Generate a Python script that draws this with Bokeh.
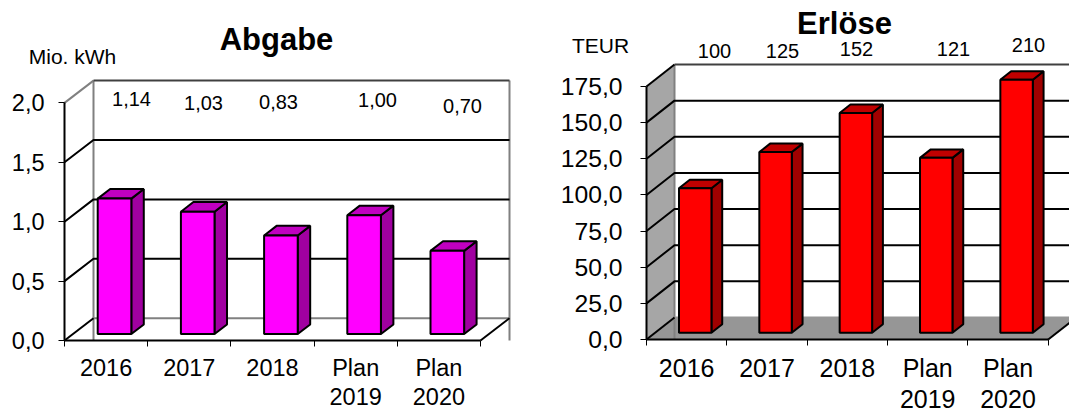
from bokeh.embed import file_html
from bokeh.layouts import row
from bokeh.models import FixedTicker, Label, Range1d
from bokeh.plotting import figure
from bokeh.resources import INLINE

# ---- data ----
categories = ["2016", "2017", "2018", "Plan\n2019", "Plan\n2020"]
abgabe_values = [1.14, 1.03, 0.83, 1.00, 0.70]
abgabe_ticks = [0.0, 0.5, 1.0, 1.5, 2.0]
erloese_values = [100, 125, 152, 121, 210]
erloese_ticks = [0.0, 25.0, 50.0, 75.0, 100.0, 125.0, 150.0, 175.0]

FONT = "Liberation Sans"
HEIGHT = 410


def chart(values, ticks, value_labels, unit, title, style):
    s = style
    ymax = ticks[-1]
    cat_w = s["cat_w"]
    ky = s["ky"]
    ox = s["depth_x"] / cat_w          # depth offset in category units
    oy = s["depth_y"] / ky             # depth offset in value units
    n = len(categories)
    zero = s["zero_y"]
    origin = s["origin_x"]

    p = figure(
        width=s["width"], height=HEIGHT, output_backend="svg", toolbar_location=None,
        x_range=Range1d(-origin / cat_w, (s["width"] - origin) / cat_w),
        y_range=Range1d(-(HEIGHT - zero) / ky, zero / ky),
        min_border_left=0, min_border_right=0,
        min_border_top=0, min_border_bottom=0,
        outline_line_color=None, background_fill_color="white",
    )
    p.grid.visible = False

    # walls and floor
    if s["wall"]:
        p.patch([0, ox, ox, 0], [0, oy, ymax + oy, ymax], fill_color=s["wall"], line_color=None)
    if s["floor"]:
        p.patch([0, ox, n + ox, n], [0, oy, oy, 0], fill_color=s["floor"], line_color=None)
    # back wall edges
    p.line([ox, ox], [0, ymax + oy], line_color="#808080", line_width=2)
    p.line([n + ox, n + ox], [0, ymax + oy], line_color="#808080", line_width=2)
    p.line([ox, n + ox], [oy, oy], line_color=s["floor_back"], line_width=2)
    p.line([n, n + ox], [0, oy], line_color="black", line_width=2)
    p.line([0, ox], [0, oy], line_color="black", line_width=2)
    # grid lines along side and back walls
    for t in ticks[1:]:
        if t == ymax:
            p.line([0, ox], [t, t + oy], line_color=s["top_diag"], line_width=2)
            p.line([ox, n + ox], [t + oy, t + oy], line_color=s["top_grid"], line_width=2)
        else:
            p.line([0, ox, n + ox], [t, t + oy, t + oy], line_color="black", line_width=2)

    # bars
    d1, d2 = s["d1"], s["d2"]
    for i, v in enumerate(values):
        h = min(v, ymax)
        xl, xr = i + 0.298 + d1 * ox, i + 0.702 + d1 * ox
        yb, yt = d1 * oy, h + d1 * oy
        dx, dy = (d2 - d1) * ox, (d2 - d1) * oy
        p.patch([xr, xr + dx, xr + dx, xr], [yb, yb + dy, yt + dy, yt],
                fill_color=s["side"], line_color="black", line_width=2)
        p.patch([xl, xl + dx, xr + dx, xr], [yt, yt + dy, yt + dy, yt],
                fill_color=s["cap"], line_color="black", line_width=2)
        p.quad(left=xl, right=xr, bottom=yb, top=yt,
               fill_color=s["face"], line_color="black", line_width=2)

    # axes
    ya = p.yaxis[0]
    ya.fixed_location = 0
    ya.bounds = (0, ymax)
    ya.ticker = FixedTicker(ticks=ticks)
    ya.major_label_overrides = {t: f"{t:.1f}".replace(".", ",") for t in ticks}
    ya.major_label_text_font = FONT
    ya.major_label_text_font_size = s["ylab"]
    ya.major_label_text_color = "black"
    ya.major_label_standoff = s["ystand"]
    ya.major_tick_out = 6
    ya.major_tick_in = 0
    ya.minor_tick_line_color = None
    ya.major_tick_line_color = "black"
    ya.axis_line_color = "black"
    ya.axis_line_width = 2

    xa = p.xaxis[0]
    xa.fixed_location = 0
    xa.bounds = (0, n)
    xa.ticker = FixedTicker(ticks=[i + 0.5 for i in range(n)], minor_ticks=list(range(n + 1)))
    xa.major_label_overrides = {i + 0.5: c for i, c in enumerate(categories)}
    xa.major_label_text_font = FONT
    xa.major_label_text_font_size = s["xlab"]
    xa.major_label_text_color = "black"
    xa.major_label_text_line_height = s["xline"]
    xa.major_label_standoff = s["xstand"]
    xa.major_tick_line_color = None
    xa.major_tick_out = 0
    xa.major_tick_in = 0
    xa.minor_tick_out = 6
    xa.minor_tick_in = 0
    xa.minor_tick_line_color = "black"
    xa.axis_line_color = "black"
    xa.axis_line_width = 2

    def put(text, sx, sy, size, weight="normal"):
        # sx, sy: picture pixels; label screen units are measured from the frame's bottom-left
        p.add_layout(Label(x=sx - s["page_x"], y=HEIGHT - sy, x_units="screen", y_units="screen",
                           text=text, text_font=FONT, text_font_size=size, text_font_style=weight,
                           text_align="center", text_baseline="middle", text_color="black"))

    put(unit, s["unit_xy"][0], s["unit_xy"][1], "21px")
    put(title, s["title_xy"][0], s["title_xy"][1], "31px", "bold")
    for txt, (sx, sy) in zip(value_labels, s["label_xy"]):
        put(txt, sx, sy, "20px")
    return p


left = chart(
    abgabe_values, abgabe_ticks, [f"{v:.2f}".replace(".", ",") for v in abgabe_values], "Mio. kWh", "Abgabe",
    dict(width=540, origin_x=64, zero_y=340, page_x=0, cat_w=83.2, ky=118.8,
         depth_x=29, depth_y=22.3, d1=0.29, d2=0.72,
         wall=None, floor=None, floor_back="#808080", top_grid="#404040", top_diag="#808080",
         face="#FF00FF", side="#A000A0", cap="#C000C0",
         ylab="23.5px", xlab="23.5px", xline=1.15, ystand=14, xstand=8,
         unit_xy=(72, 56), title_xy=(276, 39),
         label_xy=[(131, 98), (203, 102), (278, 101), (377, 99), (462, 105)]),
)
right = chart(
    erloese_values, erloese_ticks, [str(v) for v in erloese_values], "TEUR", "Erlöse",
    dict(width=529, origin_x=106, zero_y=339, page_x=540, cat_w=80.34, ky=1.4457,
         depth_x=28, depth_y=22, d1=0.305, d2=0.69,
         wall="#A6A6A6", floor="#969696", floor_back="#969696", top_grid="#404040", top_diag="black",
         face="#FF0000", side="#A00000", cap="#C00000",
         ylab="24.7px", xlab="25px", xline=1.12, ystand=18, xstand=8,
         unit_xy=(600, 45), title_xy=(844, 23),
         label_xy=[(714, 50), (782, 50), (856, 48), (953, 48), (1028, 44)]),
)

open("out.html", "w").write(file_html(row(left, right, spacing=0), INLINE))
